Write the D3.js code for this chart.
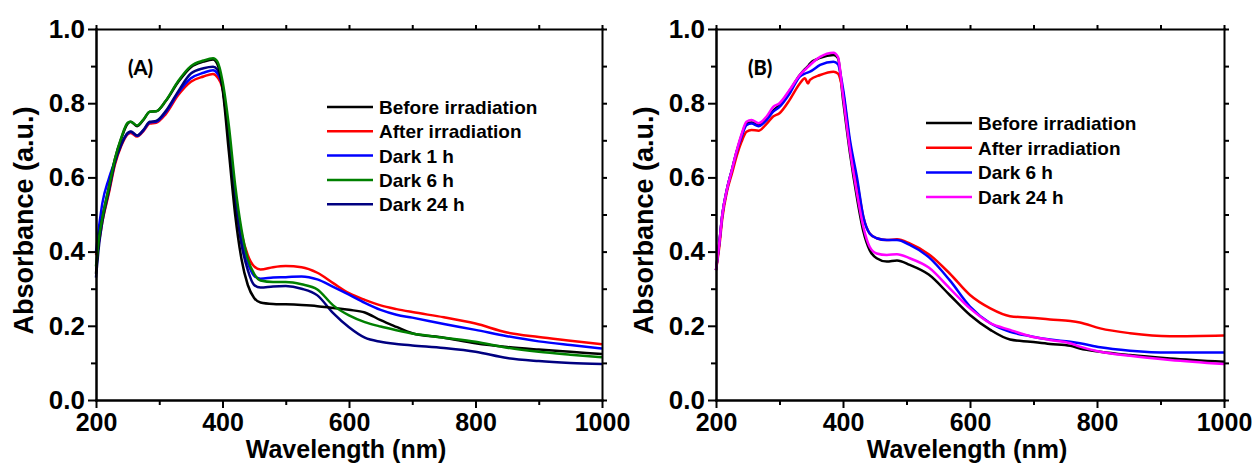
<!DOCTYPE html>
<html>
<head>
<meta charset="utf-8">
<script src="https://cdn.jsdelivr.net/npm/d3@7"></script>
<style>
  body { margin: 0; background: #fff; }
  svg { display: block; }
  .axis path, .axis line { stroke: #000; stroke-width: 2; }
  .axis text { font-family: "Liberation Sans", Arial, sans-serif; font-weight: bold; font-size: 25px; fill: #000; }
  .y.axis text { font-size: 26px; }
  .title { font-family: "Liberation Sans", Arial, sans-serif; font-weight: bold; font-size: 25px; fill: #000; }
  .ytitle { font-size: 27px; }
  .legend text { font-family: "Liberation Sans", Arial, sans-serif; font-weight: bold; font-size: 19px; fill: #000; }
  .panel-label { font-family: Lato, sans-serif; font-weight: 900; font-size: 20px; fill: #000; }
</style>
</head>
<body>
<script>
// ---- panel A data ----
var wlA = [200,205,210,220,230,240,250,255,265,275,285,295,310,330,350,370,385,392,400,410,420,430,440,450,460,480,500,525,550,575,600,625,650,675,700,750,800,850,900,950,1000];
var beforeA = [0.34,0.44,0.49,0.57,0.65,0.705,0.745,0.75,0.738,0.755,0.777,0.778,0.805,0.857,0.897,0.912,0.918,0.905,0.84,0.67,0.50,0.38,0.31,0.275,0.263,0.259,0.258,0.256,0.253,0.248,0.243,0.236,0.215,0.197,0.18,0.168,0.153,0.143,0.136,0.13,0.124];
var afterA = [0.39,0.43,0.48,0.555,0.635,0.685,0.716,0.72,0.71,0.725,0.745,0.747,0.77,0.822,0.858,0.872,0.879,0.87,0.84,0.71,0.56,0.45,0.39,0.36,0.352,0.358,0.361,0.358,0.343,0.315,0.288,0.27,0.255,0.245,0.237,0.223,0.206,0.182,0.17,0.16,0.15];
var dark1A = [0.40,0.47,0.53,0.595,0.645,0.69,0.718,0.723,0.712,0.727,0.748,0.75,0.775,0.828,0.867,0.882,0.889,0.88,0.845,0.71,0.55,0.43,0.37,0.335,0.327,0.33,0.331,0.333,0.325,0.305,0.284,0.262,0.243,0.23,0.222,0.205,0.189,0.172,0.158,0.148,0.139];
var dark6A = [0.36,0.44,0.49,0.57,0.65,0.707,0.747,0.75,0.74,0.756,0.777,0.778,0.806,0.86,0.9,0.915,0.921,0.912,0.86,0.74,0.58,0.46,0.38,0.34,0.322,0.318,0.318,0.312,0.298,0.255,0.228,0.21,0.198,0.188,0.179,0.168,0.157,0.141,0.13,0.122,0.115];
var dark24A = [0.33,0.42,0.48,0.56,0.64,0.688,0.72,0.724,0.713,0.728,0.75,0.752,0.778,0.832,0.88,0.894,0.898,0.89,0.845,0.70,0.54,0.42,0.35,0.31,0.303,0.306,0.307,0.3,0.282,0.234,0.196,0.168,0.157,0.151,0.147,0.14,0.13,0.113,0.105,0.1,0.097];

// ---- panel B data ----
var wlB = [200,205,210,217,225,233,240,248,256,267,280,290,300,316,332,340,345,348,364,385,392,400,411,422,432,442,453,469,485,505,535,568,600,632,663,695,726,758,773,805,852,915,1000];
var beforeB = [0.35,0.42,0.5,0.566,0.62,0.672,0.712,0.745,0.748,0.742,0.76,0.78,0.795,0.834,0.876,0.892,0.9,0.907,0.922,0.93,0.922,0.81,0.665,0.545,0.455,0.404,0.382,0.373,0.376,0.364,0.338,0.283,0.229,0.189,0.163,0.157,0.151,0.146,0.139,0.13,0.121,0.112,0.103];
var afterB = [0.35,0.41,0.49,0.56,0.61,0.66,0.695,0.723,0.728,0.726,0.745,0.764,0.773,0.809,0.853,0.867,0.853,0.863,0.876,0.885,0.88,0.83,0.69,0.59,0.494,0.449,0.436,0.431,0.433,0.422,0.393,0.341,0.283,0.247,0.226,0.222,0.217,0.213,0.209,0.193,0.18,0.172,0.174];
var dark6B = [0.35,0.42,0.5,0.566,0.62,0.672,0.708,0.741,0.745,0.738,0.755,0.777,0.79,0.826,0.872,0.88,0.883,0.885,0.903,0.912,0.905,0.84,0.70,0.60,0.494,0.449,0.436,0.431,0.431,0.418,0.385,0.323,0.252,0.207,0.184,0.172,0.163,0.157,0.153,0.142,0.133,0.128,0.128];
var dark24B = [0.35,0.42,0.5,0.566,0.62,0.675,0.715,0.75,0.755,0.746,0.765,0.79,0.80,0.836,0.876,0.89,0.898,0.903,0.925,0.936,0.925,0.82,0.674,0.557,0.467,0.413,0.395,0.391,0.393,0.382,0.357,0.301,0.247,0.207,0.189,0.172,0.162,0.153,0.144,0.13,0.119,0.108,0.097];

var xTicks = [200,400,600,800,1000];
var xMinor = [300,500,700,900];
var yTicks = [0,0.2,0.4,0.6,0.8,1.0];
var yMinor = [0.1,0.3,0.5,0.7,0.9];

var panels = [
  { left: 96, right: 602, label: "(A)", wl: wlA, legendX: 327, legendY: 107, legendStep: 24.3,
    series: [
      { name: "Before irradiation", values: beforeA, color: "#000000" },
      { name: "After irradiation", values: afterA, color: "#ff0000" },
      { name: "Dark 1 h", values: dark1A, color: "#0000ff" },
      { name: "Dark 6 h", values: dark6A, color: "#008000" },
      { name: "Dark 24 h", values: dark24A, color: "#000080" }
    ],
    drawOrder: [1, 2, 4, 0, 3] },
  { left: 716, right: 1224, label: "(B)", wl: wlB, legendX: 926, legendY: 123, legendStep: 24.7,
    series: [
      { name: "Before irradiation", values: beforeB, color: "#000000" },
      { name: "After irradiation", values: afterB, color: "#ff0000" },
      { name: "Dark 6 h", values: dark6B, color: "#0000ff" },
      { name: "Dark 24 h", values: dark24B, color: "#ff00ff" }
    ],
    drawOrder: [0, 1, 2, 3] }
];

var plotTop = 29, plotBottom = 400;

var svg = d3.select("body").append("svg")
    .attr("width", 1256)
    .attr("height", 463);

panels.forEach(function(p) {
  var x = d3.scaleLinear().domain([200, 1000]).range([p.left, p.right]);
  var y = d3.scaleLinear().domain([0, 1.0]).range([plotBottom, plotTop]);

  var g = svg.append("g");

  // curves
  var line = d3.line()
      .x(function(d) { return x(d[0]); })
      .y(function(d) { return y(d[1]); })
      .curve(d3.curveMonotoneX);

  p.drawOrder.forEach(function(i) {
    var s = p.series[i];
    g.append("path")
        .datum(p.wl.map(function(w, j) { return [w, s.values[j]]; }))
        .attr("fill", "none")
        .attr("stroke", s.color)
        .attr("stroke-width", 2.5)
        .attr("stroke-linejoin", "round")
        .attr("d", line);
  });

  // axes: labelled left/bottom, mirrored top/right
  g.append("g").attr("class", "x axis")
      .attr("transform", "translate(0," + plotBottom + ")")
      .call(d3.axisBottom(x).tickValues(xTicks).tickSize(8).tickSizeOuter(0).tickPadding(5).tickFormat(d3.format("d")));
  g.append("g").attr("class", "x axis")
      .attr("transform", "translate(0," + plotBottom + ")")
      .call(d3.axisBottom(x).tickValues(xMinor).tickSize(5).tickSizeOuter(0).tickFormat(""));
  g.append("g").attr("class", "x axis")
      .attr("transform", "translate(0," + plotTop + ")")
      .call(d3.axisTop(x).tickValues(xTicks.concat(xMinor)).tickSize(4).tickSizeOuter(0).tickFormat(""));

  g.append("g").attr("class", "y axis")
      .attr("transform", "translate(" + p.left + ",0)")
      .call(d3.axisLeft(y).tickValues(yTicks).tickSize(8).tickSizeOuter(0).tickPadding(3).tickFormat(d3.format(".1f")));
  g.append("g").attr("class", "y axis")
      .attr("transform", "translate(" + p.left + ",0)")
      .call(d3.axisLeft(y).tickValues(yMinor).tickSize(5).tickSizeOuter(0).tickFormat(""));
  g.append("g").attr("class", "y axis")
      .attr("transform", "translate(" + p.right + ",0)")
      .call(d3.axisRight(y).tickValues(yTicks.concat(yMinor)).tickSize(5).tickSizeOuter(0).tickFormat(""));

  g.selectAll(".axis path").attr("stroke-linecap", "square");

  // titles
  g.append("text")
      .attr("class", "title")
      .attr("text-anchor", "middle")
      .attr("x", (p.left + p.right) / 2 - 3)
      .attr("y", 458)
      .text("Wavelength (nm)");

  g.append("text")
      .attr("class", "title ytitle")
      .attr("text-anchor", "middle")
      .attr("transform", "translate(" + (p.left - 63) + "," + ((plotTop + plotBottom) / 2 + 6) + ") rotate(-90)")
      .text("Absorbance (a.u.)");

  g.append("text")
      .attr("class", "panel-label")
      .attr("x", x(200) + 32)
      .attr("y", 75)
      .text(p.label);

  // legend
  var leg = g.append("g").attr("class", "legend");
  p.series.forEach(function(s, i) {
    var ly = p.legendY + i * p.legendStep;
    leg.append("line")
        .attr("x1", p.legendX).attr("x2", p.legendX + 46)
        .attr("y1", ly).attr("y2", ly)
        .attr("stroke", s.color)
        .attr("stroke-width", 2.5);
    leg.append("text")
        .attr("x", p.legendX + 52)
        .attr("y", ly + 7)
        .text(s.name);
  });
});
</script>
</body>
</html>
